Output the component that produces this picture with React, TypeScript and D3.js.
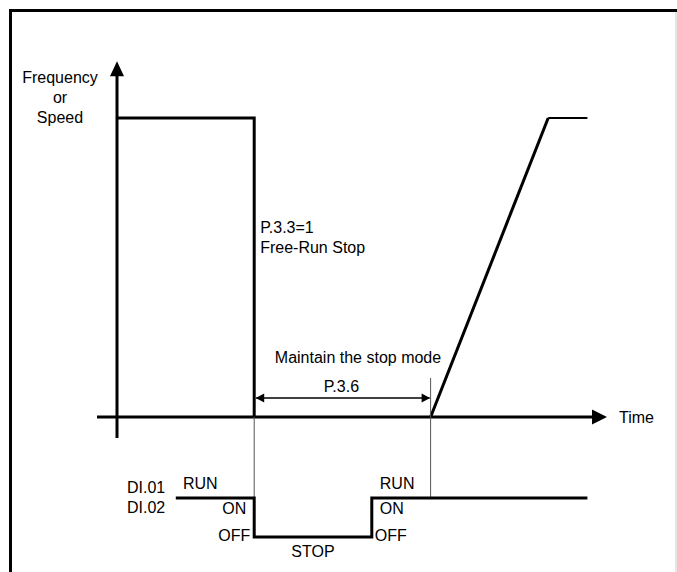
import * as React from 'react';
import * as d3 from 'd3';

// canvas size
const W = 677
const H = 572

// Frequency / speed profile: time (0..100) and normalised frequency (0..1)
const freqTime = [0, 28, 28]
const freqLevel = [1, 1, 0]
const rampTime = [64, 88]
const rampLevel = [0, 1]
const holdTime = [88, 96]
const holdLevel = [1, 1]

// DI.01 / DI.02 terminal signal (1 = ON, 0 = OFF)
const diTime = [12, 28, 28, 52, 52, 96]
const diLevel = [1, 1, 0, 0, 1, 1]

// key instants
const stopAt = 28
const restartAt = 64
const diOnAt = 52

// labels
const yLabel = ['Frequency', 'or', 'Speed']
const stopNote = ['P.3.3=1', 'Free-Run Stop']
const holdNote = 'Maintain the stop mode'
const holdParam = 'P.3.6'
const xLabel = 'Time'
const diNames = ['DI.01', 'DI.02']

type Pt = { t: number, v: number }
const zip = (ts: number[], vs: number[]): Pt[] => ts.map((t, i) => ({ t, v: vs[i] }))

const FONT = "'Liberation Sans', Arial, sans-serif"

export default function App() {
    // scales
    const x = d3.scaleLinear().domain([0, 100]).range([117, 607])
    const y = d3.scaleLinear().domain([0, 1]).range([417, 118])
    const yDi = d3.scaleLinear().domain([0, 1]).range([537, 498])

    const freqLine = d3.line<Pt>().x(d => x(d.t)).y(d => y(d.v))
    const diLine = d3.line<Pt>().x(d => x(d.t)).y(d => yDi(d.v))

    const x0 = x(0)
    const y0 = y(0)
    const axisEnd = x(100)
    const axisTop = y(1.19)

    const txt = { fontFamily: FONT, fontSize: 16, fill: '#000' } as const

    return (
        <svg width={W} height={H} style={{ position: 'absolute', left: 0, top: 0, background: '#fff' }}>
            {/* frame */}
            <line x1={10.5} y1={9} x2={10.5} y2={H} stroke="#000" strokeWidth={3} />
            <line x1={9} y1={10.5} x2={W} y2={10.5} stroke="#000" strokeWidth={3} />
            <line x1={676} y1={12} x2={676} y2={H} stroke="#ccc" strokeWidth={1} />

            {/* y axis with arrow */}
            <line x1={x0} y1={438} x2={x0} y2={axisTop + 14} stroke="#000" strokeWidth={3} />
            <path d={`M${x0},${axisTop} L${x0 + 7},${axisTop + 15} L${x0 - 7},${axisTop + 15} Z`} fill="#000" />
            {yLabel.map((s, i) => (
                <text key={s} x={60} y={83 + i * 20} textAnchor="middle" {...txt}>{s}</text>
            ))}

            {/* time axis with arrow */}
            <line x1={97} y1={y0} x2={axisEnd - 14} y2={y0} stroke="#000" strokeWidth={3} />
            <path d={`M${axisEnd},${y0} L${axisEnd - 15},${y0 - 7.5} L${axisEnd - 15},${y0 + 7.5} Z`} fill="#000" />
            <text x={axisEnd + 12} y={y0 + 6} {...txt}>{xLabel}</text>

            {/* frequency profile */}
            <path d={freqLine(zip(freqTime, freqLevel)) || ''} fill="none" stroke="#000" strokeWidth={3} strokeLinejoin="miter" />
            <path d={freqLine(zip(rampTime, rampLevel)) || ''} fill="none" stroke="#000" strokeWidth={3} />
            <path d={freqLine(zip(holdTime, holdLevel)) || ''} fill="none" stroke="#000" strokeWidth={2} />

            {/* free-run stop note */}
            {stopNote.map((s, i) => (
                <text key={s} x={x(stopAt) + 6} y={233 + i * 20} {...txt}>{s}</text>
            ))}

            {/* guide lines */}
            <line x1={x(stopAt)} y1={y0} x2={x(stopAt)} y2={yDi(1)} stroke="#555" strokeWidth={1} />
            <line x1={x(restartAt)} y1={378} x2={x(restartAt)} y2={yDi(1)} stroke="#555" strokeWidth={1} />

            {/* hold interval dimension */}
            <line x1={x(stopAt) + 2} y1={398} x2={x(restartAt) - 1} y2={398} stroke="#000" strokeWidth={1.5} />
            <path d={`M${x(stopAt) + 1.5},398 L${x(stopAt) + 10},393.5 L${x(stopAt) + 10},402.5 Z`} fill="#000" />
            <path d={`M${x(restartAt) - 0.5},398 L${x(restartAt) - 9},393.5 L${x(restartAt) - 9},402.5 Z`} fill="#000" />
            <text x={(x(stopAt) + x(restartAt)) / 2 - 1} y={392} textAnchor="middle" {...txt}>{holdParam}</text>
            <text x={358} y={363} textAnchor="middle" {...txt}>{holdNote}</text>

            {/* DI signal */}
            {diNames.map((s, i) => (
                <text key={s} x={127} y={493 + i * 20} {...txt}>{s}</text>
            ))}
            <path d={diLine(zip(diTime, diLevel)) || ''} fill="none" stroke="#000" strokeWidth={3} strokeLinejoin="miter" />
            <text x={183} y={489} {...txt}>RUN</text>
            <text x={x(stopAt) - 8} y={514} textAnchor="end" {...txt}>ON</text>
            <text x={x(stopAt) - 4} y={541} textAnchor="end" {...txt}>OFF</text>
            <text x={(x(stopAt) + x(diOnAt)) / 2} y={557} textAnchor="middle" {...txt}>STOP</text>
            <text x={x(diOnAt) + 8} y={489} {...txt}>RUN</text>
            <text x={x(diOnAt) + 8} y={514} {...txt}>ON</text>
            <text x={x(diOnAt) + 3} y={541} {...txt}>OFF</text>
        </svg>
    )
}
